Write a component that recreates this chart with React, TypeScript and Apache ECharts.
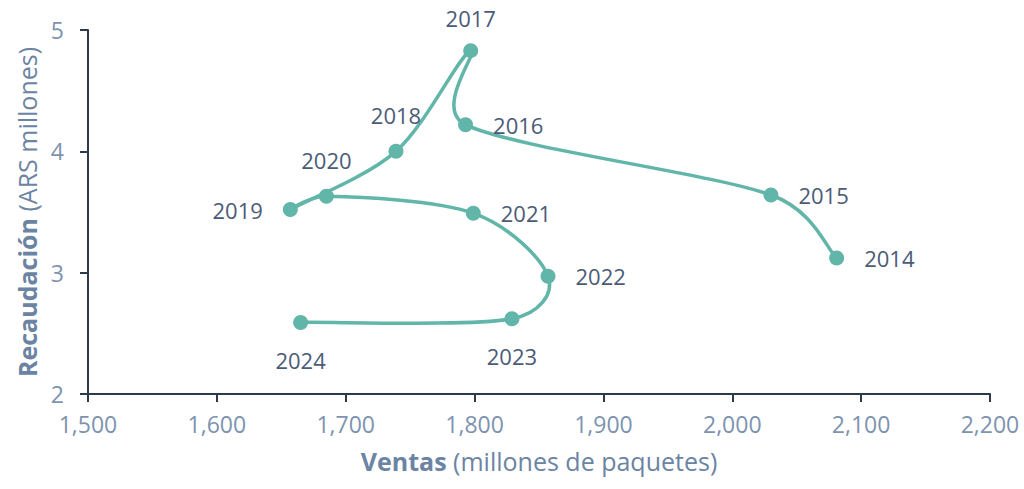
import React, { useEffect, useRef } from "react";
import * as echarts from "echarts";

const years = ["2014", "2015", "2016", "2017", "2018", "2019", "2020", "2021", "2022", "2023", "2024"];
const ventas = [2081, 2030, 1793, 1797, 1739, 1657, 1685, 1799, 1857, 1829, 1665];
const recaudacion = [3.12, 3.64, 4.22, 4.83, 4.0, 3.52, 3.63, 3.49, 2.97, 2.62, 2.59];

// label placement (style, not data)
const labelPlacement: Record<string, [string, number]> = {
  "2014": ["right", 20],
  "2015": ["right", 20],
  "2016": ["right", 20],
  "2017": ["top", 14],
  "2018": ["top", 18],
  "2019": ["left", 20],
  "2020": ["top", 18],
  "2021": ["right", 20],
  "2022": ["right", 20],
  "2023": ["bottom", 19],
  "2024": ["bottom", 19],
};

const TEAL = "#62b5a9";
const LABEL = "#4b5b77";
const TICK = "#7d93b0";
const AXIS = "#2e3a4b";
const FONT = "'Open Sans', 'Noto Sans', sans-serif";

export default function App() {
  const ref = useRef<HTMLDivElement>(null);
  useEffect(() => {
    if (!ref.current) return;
    const chart = echarts.init(ref.current, null, { renderer: "svg" });
    const pts = years.map((y, i) => [ventas[i], recaudacion[i]]);
    const data = years.map((y, i) => ({
      value: [ventas[i], recaudacion[i]],
      name: y,
      label: { position: labelPlacement[y][0], distance: labelPlacement[y][1] },
    }));
    const n = pts.length;
    const handle = (a: number[], b: number[], segLen: number) => {
      let vx = (b[0] - a[0]) / 6;
      let vy = (b[1] - a[1]) / 6;
      const len = Math.hypot(vx, vy);
      const maxLen = segLen * 0.5;
      if (len > maxLen && len > 0) {
        vx = (vx * maxLen) / len;
        vy = (vy * maxLen) / len;
      }
      return [vx, vy];
    };
    chart.setOption({
      animation: false,
      backgroundColor: "#ffffff",
      grid: { left: 88, right: 34, top: 30, bottom: 95, containLabel: false },
      xAxis: {
        type: "value",
        min: 1500,
        max: 2200,
        interval: 100,
        name: "{b|Ventas} (millones de paquetes)",
        nameLocation: "middle",
        nameGap: 54,
        nameTextStyle: {
          color: "#6b84a3",
          fontFamily: FONT,
          fontSize: 25,
          rich: { b: { fontWeight: "bold", color: "#6b84a3", fontFamily: FONT, fontSize: 25 } },
        },
        axisLine: { show: true, lineStyle: { color: AXIS, width: 2 } },
        axisTick: { show: true, length: 8, lineStyle: { color: AXIS, width: 2 } },
        axisLabel: {
          color: TICK,
          fontFamily: FONT,
          fontSize: 23,
          margin: 18,
          formatter: (v: number) => v.toLocaleString("en-US"),
        },
        splitLine: { show: false },
      },
      yAxis: {
        type: "value",
        min: 2,
        max: 5,
        interval: 1,
        name: "{b|Recaudación} (ARS millones)",
        nameLocation: "middle",
        nameGap: 46,
        nameRotate: 90,
        nameTextStyle: {
          color: "#6b84a3",
          fontFamily: FONT,
          fontSize: 25,
          rich: { b: { fontWeight: "bold", color: "#6b84a3", fontFamily: FONT, fontSize: 25 } },
        },
        axisLine: { show: true, lineStyle: { color: AXIS, width: 2 } },
        axisTick: { show: true, length: 8, lineStyle: { color: AXIS, width: 2 } },
        axisLabel: { color: TICK, fontFamily: FONT, fontSize: 23, margin: 24 },
        splitLine: { show: false },
      },
      series: [
        {
          type: "custom",
          data: pts,
          z: 2,
          silent: true,
          renderItem: (params: any, api: any) => {
            const i = params.dataIndex;
            if (i >= n - 1) return null;
            const c = (k: number) => api.coord(pts[Math.max(0, Math.min(n - 1, k))]);
            const p0 = c(i - 1);
            const p1 = c(i);
            const p2 = c(i + 1);
            const p3 = c(i + 2);
            const seg = Math.hypot(p2[0] - p1[0], p2[1] - p1[1]);
            const h1 = handle(p0, p2, seg);
            const h2 = handle(p1, p3, seg);
            return {
              type: "bezierCurve",
              shape: {
                x1: p1[0],
                y1: p1[1],
                cpx1: p1[0] + h1[0],
                cpy1: p1[1] + h1[1],
                cpx2: p2[0] - h2[0],
                cpy2: p2[1] - h2[1],
                x2: p2[0],
                y2: p2[1],
              },
              style: { stroke: TEAL, lineWidth: 3.5, fill: null, lineCap: "round" },
            };
          },
        },
        {
          type: "scatter",
          data,
          z: 3,
          symbol: "circle",
          symbolSize: 15,
          itemStyle: { color: TEAL, opacity: 1 },
          label: {
            show: true,
            formatter: (p: any) => p.name,
            color: LABEL,
            fontFamily: FONT,
            fontSize: 22,
          },
        },
      ],
    });
    return () => chart.dispose();
  }, []);
  return <div ref={ref} style={{ width: 1024, height: 489, position: "absolute", left: 0, top: 0 }} />;
}
